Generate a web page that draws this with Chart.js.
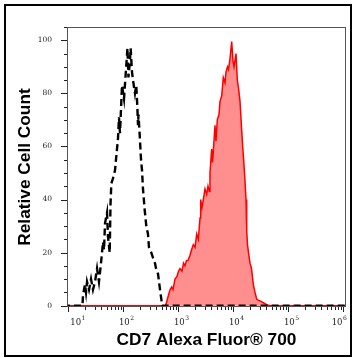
<!DOCTYPE html>
<html>
<head>
<meta charset="utf-8">
<script src="https://cdn.jsdelivr.net/npm/chart.js@4/dist/chart.umd.min.js"></script>
<style>
  html, body { margin: 0; padding: 0; background: #fff; }
  canvas { display: block; }
</style>
</head>
<body>
<canvas id="chart" width="353" height="358"></canvas>
<script>
// isotype control (black dashed) - fluorescence intensity and relative count
const isotypeFI = [8, 18.1, 18.5, 20.1, 21.0, 21.9, 23.8, 25.9, 28.1, 30.6, 33.3, 36.1, 39.3, 42.8, 44.6, 46.5,
    50.6, 52.7, 56.6, 58.5, 60.6, 65.0, 70.7, 73.6, 80.1, 83.5, 87.1, 90.8, 94.7, 103, 112, 119, 124,
    132, 136, 144, 150, 163, 172, 180, 185, 189, 199, 210, 219, 228, 245, 262, 281, 293, 323, 347,
    377, 394, 428, 465, 495, 506, 1300000];
const isotypeCount = [0, 0, 4, 8, 5, 9, 6, 10, 6, 9, 14, 9, 16, 24, 21, 31,
    35, 26, 20, 38, 46, 48, 51, 55, 63, 71, 65, 74, 83, 78, 89, 97, 86,
    92, 97, 88, 85, 80, 83, 75, 68, 72, 64, 55, 51, 44, 36, 30, 27, 22, 20, 18,
    16, 14, 12, 6, 2, 0, 0];

// CD7 stained cells (red filled)
const cd7FI = [8, 585, 615, 664, 706, 758, 801, 871, 946, 1009, 1074, 1167, 1245, 1324, 1410, 1500,
    1633, 1738, 1875, 2014, 2163, 2312, 2483, 2553, 2698, 2851, 3057, 3283, 3467, 3664, 3767, 4045,
    4188, 4327, 4645, 4842, 5117, 5495, 5728, 6152, 6577, 7063, 7362, 7852, 8185, 8710, 9354, 9886,
    10300, 11200, 11830, 12450, 13240, 14220, 14830, 15320, 16330, 17030, 17540, 18130, 18900, 20140,
    21440, 23120, 24830, 26610, 28710, 30570, 35080, 40460, 46450, 1300000];
const cd7Count = [0, 0, 1.5, 4, 6, 7, 6, 10, 11, 13, 14, 13, 16, 15, 17, 17,
    19, 21, 23, 22, 27, 25, 33, 40, 37, 40, 44, 42, 45, 43, 50, 59,
    54, 58, 68, 62, 70, 72, 77, 79, 86, 84, 88, 90, 89, 93, 99.5, 92,
    90, 95, 85, 82, 77, 66, 60, 56, 47, 40, 28, 23, 20, 16,
    14, 8, 5, 2.5, 2, 1.8, 1.1, 0.4, 0, 0];

const decadeTicks = [10, 100, 1000, 10000, 100000, 1000000];
const decadeExponents = ['1', '2', '3', '4', '5', '6'];
const countTicks = [0, 20, 40, 60, 80, 100];

const toPoints = (xs, ys) => xs.map((x, i) => ({ x: x, y: ys[i] }));

const axisMarks = {
    id: 'axisMarks',
    afterDraw(chart) {
        const { ctx, chartArea: a, scales: { x, y } } = chart;
        ctx.save();
        ctx.strokeStyle = '#222';
        ctx.lineWidth = 1;
        ctx.beginPath();
        decadeTicks.forEach(d => {
            for (let k = 1; k < 10; k++) {
                const v = d * k;
                if (v > x.max) break;
                const px = Math.round(x.getPixelForValue(v)) + 0.5;
                ctx.moveTo(px, a.bottom);
                ctx.lineTo(px, a.bottom + (k === 1 ? 5 : 3));
            }
        });
        for (let v = 0; v <= 105; v += 5) {
            const py = Math.round(y.getPixelForValue(v)) + 0.5;
            ctx.moveTo(a.left, py);
            ctx.lineTo(a.left - (v % 20 === 0 ? 6 : 3), py);
        }
        ctx.stroke();
        ctx.strokeStyle = '#555';
        ctx.strokeRect(a.left + 0.5, a.top + 0.5, a.right - a.left - 1, a.bottom - a.top - 1);

        // decade labels: "10" with a raised exponent
        ctx.fillStyle = '#222';
        ctx.textBaseline = 'alphabetic';
        ctx.textAlign = 'left';
        decadeTicks.forEach((d, i) => {
            const px = x.getPixelForValue(d);
            ctx.font = '8.5px "DejaVu Serif"';
            const w10 = ctx.measureText('10').width;
            ctx.font = '6px "DejaVu Serif"';
            const wExp = ctx.measureText(decadeExponents[i]).width;
            let start = px - w10 / 2 + 1;
            if (i === 0) start = px + 2;
            if (i === decadeTicks.length - 1) start = px - w10 - wExp + 3;
            ctx.font = '8.5px "DejaVu Serif"';
            ctx.fillText('10', start, a.bottom + 18);
            ctx.font = '6px "DejaVu Serif"';
            ctx.fillText(decadeExponents[i], start + w10 + 0.5, a.bottom + 13);
        });

        // outer frame
        ctx.lineWidth = 2;
        ctx.strokeStyle = '#000';
        ctx.strokeRect(5, 5, chart.width - 7, chart.height - 7);
        ctx.restore();
    }
};

new Chart(document.getElementById('chart'), {
    type: 'line',
    data: {
        datasets: [{
            data: toPoints(isotypeFI, isotypeCount),
            borderColor: '#000',
            borderWidth: 2.4,
            borderDash: [7, 4],
            fill: false,
            pointRadius: 0,
            tension: 0
        }, {
            data: toPoints(cd7FI, cd7Count),
            borderColor: '#ff0000',
            borderWidth: 1.5,
            backgroundColor: '#ff8f8f',
            fill: 'origin',
            pointRadius: 0,
            tension: 0
        }]
    },
    options: {
        responsive: false,
        animation: false,
        layout: { padding: { left: 10, right: 7, top: 27, bottom: 4 } },
        plugins: { legend: { display: false }, tooltip: { enabled: false } },
        scales: {
            x: {
                type: 'logarithmic',
                min: 9.47,
                max: 1.12e6,
                afterBuildTicks: s => { s.ticks = decadeTicks.map(v => ({ value: v })); },
                afterFit: s => { s.height = 47; },
                grid: { display: false },
                border: { display: false },
                ticks: { display: false },
                title: {
                    display: true,
                    text: 'CD7 Alexa Fluor® 700',
                    color: '#000',
                    font: { family: 'Liberation Sans', size: 17.3, weight: 'bold' },
                    padding: { top: 0, bottom: 3.6 }
                }
            },
            y: {
                min: -0.5,
                max: 105,
                afterBuildTicks: s => { s.ticks = countTicks.map(v => ({ value: v })); },
                afterFit: s => { s.width = 57; },
                grid: { display: false },
                border: { display: false },
                ticks: {
                    padding: 7,
                    color: '#222',
                    font: { family: 'DejaVu Serif', size: 7.5 }
                },
                title: {
                    display: true,
                    text: 'Relative Cell Count',
                    color: '#000',
                    font: { family: 'Liberation Sans', size: 17.3, weight: 'bold' },
                    padding: { top: 4.6, bottom: 0 }
                }
            }
        }
    },
    plugins: [axisMarks]
});
</script>
</body>
</html>
